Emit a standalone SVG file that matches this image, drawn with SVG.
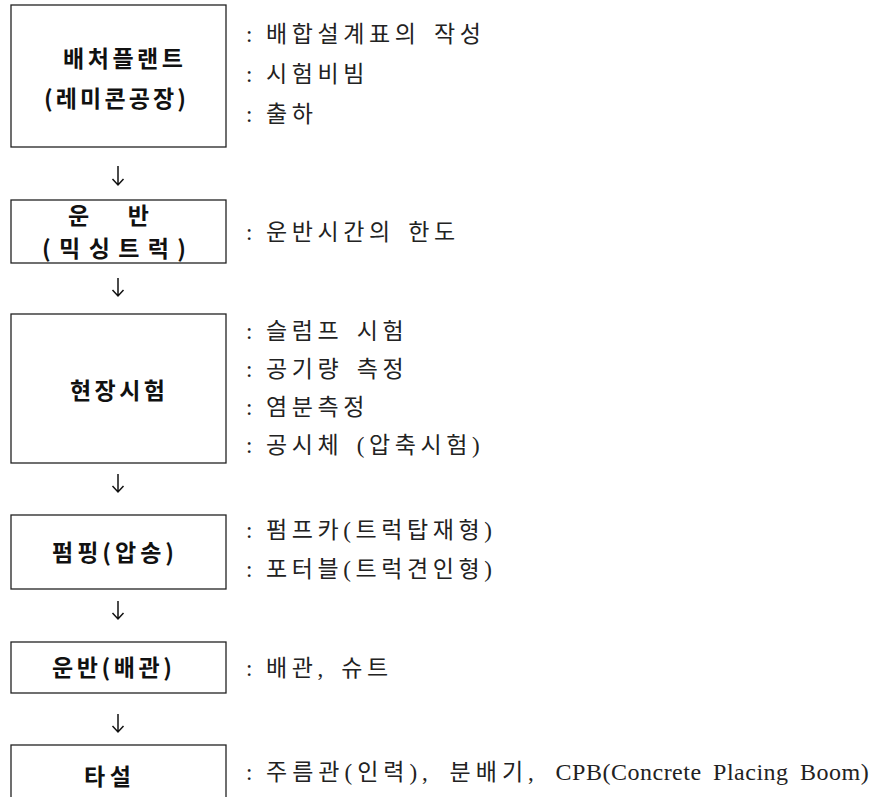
<svg xmlns="http://www.w3.org/2000/svg" width="895" height="797" viewBox="0 0 895 797">
<defs>
<style>
.box{fill:#fff;stroke:#222;stroke-width:1.3}
.bt{font-family:"Noto Sans CJK KR","Liberation Sans",sans-serif;font-weight:700;font-size:23px;fill:#111}
.lb{font-family:"Liberation Serif","Noto Sans CJK KR",serif;font-size:23px;fill:#222}
.k{letter-spacing:4.6px;word-spacing:3px}
.arr{fill:none;stroke:#111;stroke-width:1.5}
</style>
</defs>
<rect width="895" height="797" fill="#fff"/>
<g id="connectors">
<path class="arr" d="M118,166V185M112.5,179L118,185L123.5,179"/>
<path class="arr" d="M118,278V296M112.5,290L118,296L123.5,290"/>
<path class="arr" d="M118,474V492M112.5,486L118,492L123.5,486"/>
<path class="arr" d="M118,601V619M112.5,613L118,619L123.5,613"/>
<path class="arr" d="M118,714V732M112.5,726L118,732L123.5,726"/>
</g>
<g id="n1">
<rect class="box" x="11" y="5" width="215" height="142"/>
<text class="bt" x="63" y="67" textLength="120" lengthAdjust="spacing">배처플랜트</text>
<text class="bt" x="44" y="107" textLength="142" lengthAdjust="spacing">(레미콘공장)</text>
<text class="lb" y="42"><tspan x="246">: </tspan><tspan class="k" x="266">배합설계표의 작성</tspan></text>
<text class="lb" y="82"><tspan x="246">: </tspan><tspan class="k" x="266">시험비빔</tspan></text>
<text class="lb" y="122"><tspan x="246">: </tspan><tspan class="k" x="266">출하</tspan></text>
</g>
<g id="n2">
<rect class="box" x="11" y="200" width="215" height="63"/>
<text class="bt" x="68" y="224" textLength="81" lengthAdjust="spacing">운 반</text>
<text class="bt" x="42" y="257" textLength="144" lengthAdjust="spacing">(믹싱트럭)</text>
<text class="lb" y="240"><tspan x="246">: </tspan><tspan class="k" x="266">운반시간의 한도</tspan></text>
</g>
<g id="n3">
<rect class="box" x="11" y="314" width="215" height="149"/>
<text class="bt" x="70" y="399" textLength="95" lengthAdjust="spacing">현장시험</text>
<text class="lb" y="339"><tspan x="246">: </tspan><tspan class="k" x="266">슬럼프 시험</tspan></text>
<text class="lb" y="377"><tspan x="246">: </tspan><tspan class="k" x="266">공기량 측정</tspan></text>
<text class="lb" y="415"><tspan x="246">: </tspan><tspan class="k" x="266">염분측정</tspan></text>
<text class="lb" y="453"><tspan x="246">: </tspan><tspan class="k" x="266">공시체 (압축시험)</tspan></text>
</g>
<g id="n4">
<rect class="box" x="11" y="515" width="215" height="74"/>
<text class="bt" x="52" y="561" textLength="122" lengthAdjust="spacing">펌핑(압송)</text>
<text class="lb" y="538"><tspan x="246">: </tspan><tspan class="k" x="266">펌프카(트럭탑재형)</tspan></text>
<text class="lb" y="577"><tspan x="246">: </tspan><tspan class="k" x="266">포터블(트럭견인형)</tspan></text>
</g>
<g id="n5">
<rect class="box" x="11" y="642" width="215" height="51"/>
<text class="bt" x="52" y="676" textLength="120" lengthAdjust="spacing">운반(배관)</text>
<text class="lb" y="676"><tspan x="246">: </tspan><tspan class="k" x="266">배관, 슈트</tspan></text>
</g>
<g id="n6">
<rect class="box" x="11" y="745" width="215" height="60"/>
<text class="bt" x="84" y="785" textLength="47" lengthAdjust="spacing">타설</text>
<text class="lb" y="780"><tspan x="246">: </tspan><tspan x="266" style="letter-spacing:5px;word-spacing:6px">주름관(인력), 분배기, </tspan><tspan style="font-size:24px;letter-spacing:0.5px;word-spacing:5px">CPB(Concrete Placing Boom)</tspan></text>
</g>
</svg>
